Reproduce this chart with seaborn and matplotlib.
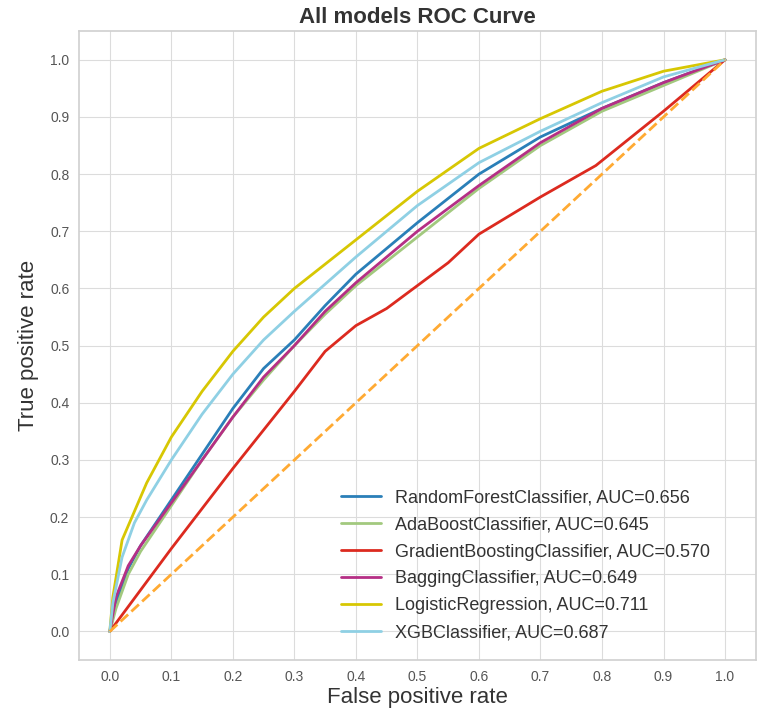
import matplotlib
matplotlib.use("Agg")
import matplotlib.pyplot as plt
import seaborn as sns
import numpy as np

# ROC curves (false positive rate, true positive rate) per model
rf_fpr = [0, 0.01, 0.03, 0.05, 0.1, 0.15, 0.2, 0.25, 0.3, 0.35, 0.4, 0.5, 0.6, 0.7, 0.8, 0.9, 1.0]
rf_tpr = [0, 0.05, 0.11, 0.15, 0.23, 0.31, 0.39, 0.46, 0.51, 0.57, 0.625, 0.715, 0.80, 0.865, 0.915, 0.96, 1.0]

ada_fpr = [0, 0.01, 0.03, 0.05, 0.1, 0.15, 0.2, 0.25, 0.3, 0.35, 0.4, 0.5, 0.6, 0.7, 0.8, 0.9, 1.0]
ada_tpr = [0, 0.04, 0.10, 0.14, 0.22, 0.30, 0.375, 0.44, 0.50, 0.555, 0.605, 0.69, 0.775, 0.85, 0.91, 0.955, 1.0]

gb_fpr = [0, 0.1, 0.2, 0.3, 0.35, 0.4, 0.45, 0.5, 0.55, 0.6, 0.7, 0.79, 0.9, 1.0]
gb_tpr = [0, 0.145, 0.285, 0.42, 0.49, 0.535, 0.565, 0.605, 0.645, 0.695, 0.76, 0.815, 0.91, 1.0]

bag_fpr = [0, 0.01, 0.03, 0.05, 0.1, 0.15, 0.2, 0.25, 0.3, 0.35, 0.4, 0.5, 0.6, 0.7, 0.8, 0.9, 1.0]
bag_tpr = [0, 0.06, 0.115, 0.15, 0.225, 0.30, 0.375, 0.445, 0.50, 0.56, 0.61, 0.70, 0.78, 0.855, 0.915, 0.96, 1.0]

lr_fpr = [0, 0.005, 0.02, 0.04, 0.06, 0.1, 0.15, 0.2, 0.25, 0.3, 0.4, 0.5, 0.6, 0.7, 0.8, 0.9, 1.0]
lr_tpr = [0, 0.06, 0.16, 0.21, 0.26, 0.34, 0.42, 0.49, 0.55, 0.60, 0.685, 0.77, 0.845, 0.897, 0.945, 0.98, 1.0]

xgb_fpr = [0, 0.005, 0.02, 0.04, 0.06, 0.1, 0.15, 0.2, 0.25, 0.3, 0.4, 0.5, 0.6, 0.7, 0.8, 0.9, 1.0]
xgb_tpr = [0, 0.05, 0.13, 0.19, 0.23, 0.30, 0.38, 0.45, 0.51, 0.56, 0.655, 0.745, 0.82, 0.875, 0.925, 0.97, 1.0]

model_names = ["RandomForestClassifier", "AdaBoostClassifier", "GradientBoostingClassifier",
               "BaggingClassifier", "LogisticRegression", "XGBClassifier"]
auc_scores = [0.656, 0.645, 0.570, 0.649, 0.711, 0.687]
tick_values = [0.0, 0.1, 0.2, 0.3, 0.4, 0.5, 0.6, 0.7, 0.8, 0.9, 1.0]

curves = [(rf_fpr, rf_tpr), (ada_fpr, ada_tpr), (gb_fpr, gb_tpr),
          (bag_fpr, bag_tpr), (lr_fpr, lr_tpr), (xgb_fpr, xgb_tpr)]
palette = ["#2a7fb8", "#a2c97e", "#dc2a1f", "#b52f85", "#d7c703", "#8fd0e4"]

sns.set_style("whitegrid", {"grid.color": "#dcdcdc", "axes.edgecolor": "#d0d0d0"})
plt.rcParams["font.family"] = ["Liberation Sans", "DejaVu Sans"]

fig = plt.figure(figsize=(7.57, 7.09), dpi=100)
ax = fig.add_axes([0.1044, 0.069, 0.894, 0.887])

for (fpr, tpr), name, auc, col in zip(curves, model_names, auc_scores, palette):
    sns.lineplot(x=fpr, y=tpr, ax=ax, color=col, linewidth=2, sort=False,
                 estimator=None, label=f"{name}, AUC={auc:.3f}")

ax.plot([0, 1], [0, 1], color="#ffaa33", linestyle="--", linewidth=2)

ax.set_xlim(-0.05, 1.05)
ax.set_ylim(-0.05, 1.05)
ax.set_xticks(tick_values)
ax.set_yticks(tick_values)
ax.set_xticklabels([f"{t:.1f}" for t in tick_values])
ax.set_yticklabels([f"{t:.1f}" for t in tick_values])
ax.tick_params(labelsize=10, colors="#555555", length=0, pad=7)
for s in ax.spines.values():
    s.set_color("#d0d0d0")
    s.set_linewidth(1.2)

ax.set_xlabel("False positive rate", fontsize=16, color="#333333", labelpad=2)
ax.set_ylabel("True positive rate", fontsize=16, color="#333333", labelpad=8)
ax.set_title("All models ROC Curve", fontsize=16, fontweight="bold", color="#333333", pad=6)

leg = ax.legend(loc="lower right", frameon=False, fontsize=13, handlelength=2.2,
                labelspacing=0.55, bbox_to_anchor=(0.957, 0.004))
for t in leg.get_texts():
    t.set_color("#333333")

fig.savefig("out.png", dpi=100, facecolor="white")
